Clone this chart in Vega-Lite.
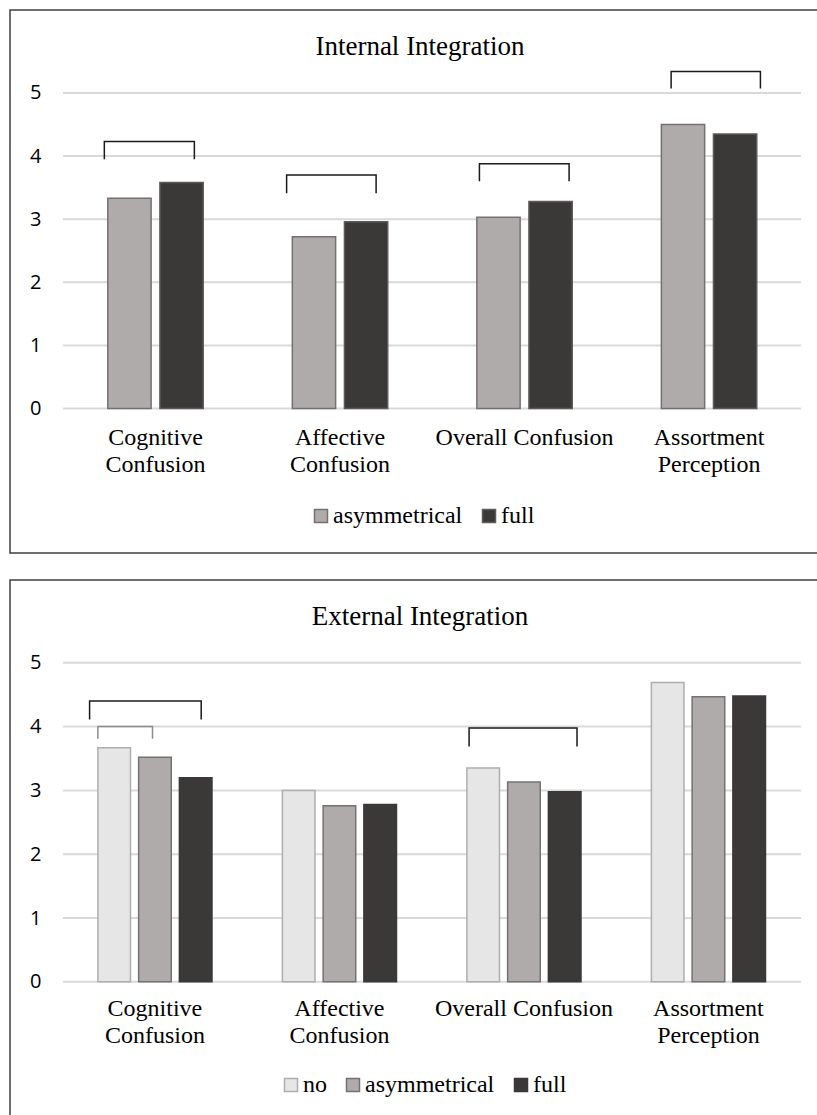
{
  "$schema": "https://vega.github.io/schema/vega-lite/v6.json",
  "background": "white",
  "padding": {"left": 9, "top": 9, "right": 0, "bottom": 0},
  "spacing": 25,
  "config": {
    "view": {"stroke": "#404040", "strokeWidth": 1.5},
    "axisY": {"grid": false, "domain": false, "ticks": false, "labelPadding": 0, "offset": -31, "labelFont": "Open Sans", "labelFontSize": 20, "labelColor": "#000000"},
    "axisX": {"grid": false, "domain": false, "ticks": false, "labelPadding": 0, "labelAngle": 0, "labelFont": "Liberation Serif", "labelFontSize": 24, "labelColor": "#000000", "labelLineHeight": 27, "labelLimit": 0, "labelOverlap": false},
    "legend": {"symbolType": "square", "symbolSize": 169, "symbolStrokeWidth": 1.5, "labelFont": "Liberation Serif", "labelFontSize": 24, "labelColor": "#000000", "labelOffset": 0, "columnPadding": 14, "padding": 0, "labelLimit": 0},
    "title": {"font": "Liberation Serif", "fontSize": 27, "fontWeight": "normal", "color": "#000000", "anchor": "middle", "offset": -51, "dx": 6}
  },
  "vconcat": [
    {
      "width": 808,
      "height": 543,
      "title": {"text": "Internal Integration"},
      "layer": [
        {
          "data": {"values": [{"v": 0}, {"v": 1}, {"v": 2}, {"v": 3}, {"v": 4}, {"v": 5}]},
          "mark": {"type": "rule", "color": "#d9d9d9", "strokeWidth": 2},
          "encoding": {
            "x": {"datum": 0, "type": "quantitative", "scale": {"domain": [-0.2873, 4.0921], "nice": false, "zero": false}, "axis": null},
            "x2": {"datum": 4},
            "y": {"field": "v", "type": "quantitative", "scale": {"domain": [-2.29, 6.315], "nice": false, "zero": false}, "axis": {"values": [0, 1, 2, 3, 4, 5], "title": null}}
          }
        },
        {
          "data": {"values": [
            {"measure": "Cognitive Confusion", "integration": "asymmetrical", "score": 3.33},
            {"measure": "Cognitive Confusion", "integration": "full", "score": 3.58},
            {"measure": "Affective Confusion", "integration": "asymmetrical", "score": 2.72},
            {"measure": "Affective Confusion", "integration": "full", "score": 2.96},
            {"measure": "Overall Confusion", "integration": "asymmetrical", "score": 3.03},
            {"measure": "Overall Confusion", "integration": "full", "score": 3.28},
            {"measure": "Assortment Perception", "integration": "asymmetrical", "score": 4.5},
            {"measure": "Assortment Perception", "integration": "full", "score": 4.35}
          ]},
          "mark": {"type": "bar", "strokeWidth": 1.5},
          "encoding": {
            "x": {"field": "measure", "type": "nominal", "sort": ["Cognitive Confusion", "Affective Confusion", "Overall Confusion", "Assortment Perception"], "scale": {"paddingInner": 0.483, "paddingOuter": 0.431, "align": 0.615}, "axis": {"title": null, "offset": -128, "labelExpr": "datum.value == 'Overall Confusion' ? datum.value : split(datum.value, ' ')"}},
            "xOffset": {"field": "integration", "type": "nominal", "sort": ["asymmetrical", "full"], "scale": {"domain": ["asymmetrical", "full"], "paddingInner": 0.169, "paddingOuter": 0}},
            "y": {"field": "score", "type": "quantitative", "axis": {"values": [0, 1, 2, 3, 4, 5], "title": null}},
            "fill": {"field": "integration", "type": "nominal", "sort": ["asymmetrical", "full"], "scale": {"domain": ["asymmetrical", "full"], "range": ["#afabab", "#3b3838"]}, "legend": {"title": null, "orient": "none", "direction": "horizontal", "legendX": 299, "legendY": 494}},
            "stroke": {"field": "integration", "type": "nominal", "sort": ["asymmetrical", "full"], "scale": {"domain": ["asymmetrical", "full"], "range": ["#767171", "#5e5a5a"]}, "legend": {"title": null, "orient": "none", "direction": "horizontal", "legendX": 299, "legendY": 494}}
          }
        },
        {
          "data": {"values": [
            {"bracket": "cog", "k": 1, "bx": 0.224, "by": 3.95},
            {"bracket": "cog", "k": 2, "bx": 0.224, "by": 4.23},
            {"bracket": "cog", "k": 3, "bx": 0.712, "by": 4.23},
            {"bracket": "cog", "k": 4, "bx": 0.712, "by": 3.95},
            {"bracket": "aff", "k": 1, "bx": 1.212, "by": 3.41},
            {"bracket": "aff", "k": 2, "bx": 1.212, "by": 3.7},
            {"bracket": "aff", "k": 3, "bx": 1.697, "by": 3.7},
            {"bracket": "aff", "k": 4, "bx": 1.697, "by": 3.41},
            {"bracket": "ovr", "k": 1, "bx": 2.257, "by": 3.6},
            {"bracket": "ovr", "k": 2, "bx": 2.257, "by": 3.88},
            {"bracket": "ovr", "k": 3, "bx": 2.743, "by": 3.88},
            {"bracket": "ovr", "k": 4, "bx": 2.743, "by": 3.6},
            {"bracket": "ass", "k": 1, "bx": 3.296, "by": 5.07},
            {"bracket": "ass", "k": 2, "bx": 3.296, "by": 5.34},
            {"bracket": "ass", "k": 3, "bx": 3.78, "by": 5.34},
            {"bracket": "ass", "k": 4, "bx": 3.78, "by": 5.07}
          ]},
          "mark": {"type": "line", "color": "#1a1a1a", "strokeWidth": 1.5},
          "encoding": {
            "x": {"field": "bx", "type": "quantitative", "scale": {"domain": [-0.2873, 4.0921], "nice": false, "zero": false}, "axis": null},
            "y": {"field": "by", "type": "quantitative", "axis": {"values": [0, 1, 2, 3, 4, 5], "title": null}},
            "detail": {"field": "bracket"},
            "order": {"field": "k", "type": "quantitative"}
          }
        }
      ],
      "resolve": {"scale": {"x": "independent"}}
    },
    {
      "width": 808,
      "height": 537,
      "title": {"text": "External Integration"},
      "layer": [
        {
          "data": {"values": [{"v": 0}, {"v": 1}, {"v": 2}, {"v": 3}, {"v": 4}, {"v": 5}]},
          "mark": {"type": "rule", "color": "#d9d9d9", "strokeWidth": 2},
          "encoding": {
            "x": {"datum": 0, "type": "quantitative", "scale": {"domain": [-0.2873, 4.0921], "nice": false, "zero": false}, "axis": null},
            "x2": {"datum": 4},
            "y": {"field": "v", "type": "quantitative", "scale": {"domain": [-2.119, 6.298], "nice": false, "zero": false}, "axis": {"values": [0, 1, 2, 3, 4, 5], "title": null}}
          }
        },
        {
          "data": {"values": [
            {"measure": "Cognitive Confusion", "integration": "no", "score": 3.67},
            {"measure": "Cognitive Confusion", "integration": "asymmetrical", "score": 3.52},
            {"measure": "Cognitive Confusion", "integration": "full", "score": 3.2},
            {"measure": "Affective Confusion", "integration": "no", "score": 3.0},
            {"measure": "Affective Confusion", "integration": "asymmetrical", "score": 2.76},
            {"measure": "Affective Confusion", "integration": "full", "score": 2.78},
            {"measure": "Overall Confusion", "integration": "no", "score": 3.35},
            {"measure": "Overall Confusion", "integration": "asymmetrical", "score": 3.13},
            {"measure": "Overall Confusion", "integration": "full", "score": 2.98},
            {"measure": "Assortment Perception", "integration": "no", "score": 4.69},
            {"measure": "Assortment Perception", "integration": "asymmetrical", "score": 4.47},
            {"measure": "Assortment Perception", "integration": "full", "score": 4.48}
          ]},
          "mark": {"type": "bar", "strokeWidth": 1.5},
          "encoding": {
            "x": {"field": "measure", "type": "nominal", "sort": ["Cognitive Confusion", "Affective Confusion", "Overall Confusion", "Assortment Perception"], "scale": {"paddingInner": 0.3816, "paddingOuter": 0.3805, "align": 0.626}, "axis": {"title": null, "offset": -121, "labelExpr": "datum.value == 'Overall Confusion' ? datum.value : split(datum.value, ' ')"}},
            "xOffset": {"field": "integration", "type": "nominal", "sort": ["no", "asymmetrical", "full"], "scale": {"domain": ["no", "asymmetrical", "full"], "paddingInner": 0.2, "paddingOuter": 0}},
            "y": {"field": "score", "type": "quantitative", "axis": {"values": [0, 1, 2, 3, 4, 5], "title": null}},
            "fill": {"field": "integration", "type": "nominal", "sort": ["no", "asymmetrical", "full"], "scale": {"domain": ["no", "asymmetrical", "full"], "range": ["#e7e6e6", "#afabab", "#3b3838"]}, "legend": {"title": null, "orient": "none", "direction": "horizontal", "legendX": 269, "legendY": 493}},
            "stroke": {"field": "integration", "type": "nominal", "sort": ["no", "asymmetrical", "full"], "scale": {"domain": ["no", "asymmetrical", "full"], "range": ["#b0adad", "#767171", "#3b3838"]}, "legend": {"title": null, "orient": "none", "direction": "horizontal", "legendX": 269, "legendY": 493}}
          }
        },
        {
          "data": {"values": [
            {"bracket": "cog-outer", "level": "outer", "k": 1, "bx": 0.144, "by": 4.11},
            {"bracket": "cog-outer", "level": "outer", "k": 2, "bx": 0.144, "by": 4.4},
            {"bracket": "cog-outer", "level": "outer", "k": 3, "bx": 0.749, "by": 4.4},
            {"bracket": "cog-outer", "level": "outer", "k": 4, "bx": 0.749, "by": 4.11},
            {"bracket": "cog-inner", "level": "inner", "k": 1, "bx": 0.189, "by": 3.81},
            {"bracket": "cog-inner", "level": "inner", "k": 2, "bx": 0.189, "by": 4.0},
            {"bracket": "cog-inner", "level": "inner", "k": 3, "bx": 0.485, "by": 4.0},
            {"bracket": "cog-inner", "level": "inner", "k": 4, "bx": 0.485, "by": 3.81},
            {"bracket": "ovr", "level": "outer", "k": 1, "bx": 2.201, "by": 3.69},
            {"bracket": "ovr", "level": "outer", "k": 2, "bx": 2.201, "by": 3.98},
            {"bracket": "ovr", "level": "outer", "k": 3, "bx": 2.786, "by": 3.98},
            {"bracket": "ovr", "level": "outer", "k": 4, "bx": 2.786, "by": 3.69}
          ]},
          "mark": {"type": "line", "strokeWidth": 1.5},
          "encoding": {
            "x": {"field": "bx", "type": "quantitative", "scale": {"domain": [-0.2873, 4.0921], "nice": false, "zero": false}, "axis": null},
            "y": {"field": "by", "type": "quantitative", "axis": {"values": [0, 1, 2, 3, 4, 5], "title": null}},
            "color": {"field": "level", "type": "nominal", "scale": {"domain": ["outer", "inner"], "range": ["#1a1a1a", "#8c8c8c"]}, "legend": null},
            "detail": {"field": "bracket"},
            "order": {"field": "k", "type": "quantitative"}
          }
        }
      ],
      "resolve": {"scale": {"x": "independent"}}
    }
  ],
  "resolve": {"scale": {"fill": "independent", "stroke": "independent", "color": "independent", "x": "independent", "y": "independent", "xOffset": "independent"}, "legend": {"fill": "independent", "stroke": "independent"}}
}
